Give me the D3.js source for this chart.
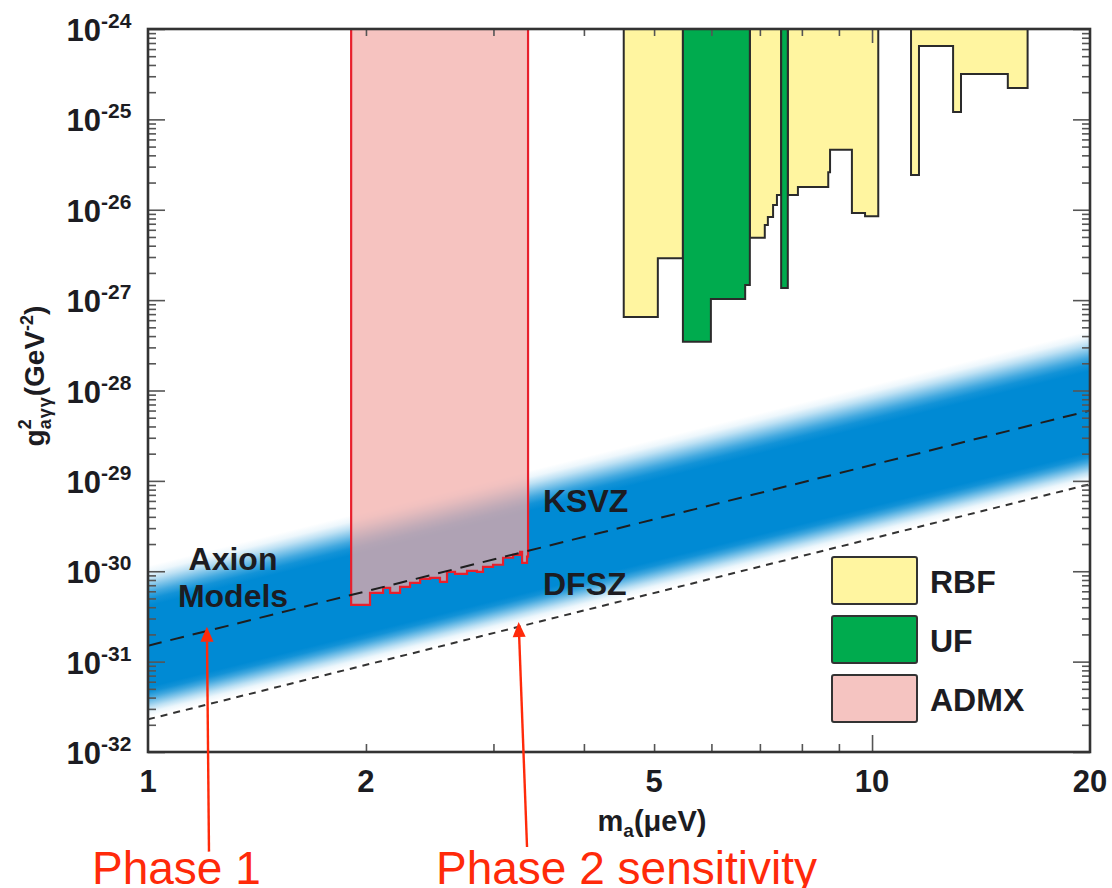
<!DOCTYPE html>
<html><head><meta charset="utf-8">
<script src="https://cdn.jsdelivr.net/npm/d3@7"></script>
<style>
body{margin:0;background:#fff}
svg{display:block}
text{font-family:"Liberation Sans",Arial,Helvetica,sans-serif}
</style>
</head><body>
<svg id="chart" width="1112" height="888"></svg>
<script>
// ---------------- data ----------------
const xTickLabels = [1, 2, 5, 10, 20];
const xMinorTicks = [2, 3, 4, 5, 6, 7, 8, 9];
const xMajorTicks = [10];
const yTickExponents = [-24, -25, -26, -27, -28, -29, -30, -31, -32];

// excluded regions: each segment = [mass left, mass right, g^2 lower limit]
const rbfRegions = [
  [[4.54, 5.06, 6.5e-28], [5.06, 5.48, 2.9e-27]],
  [[6.78, 7.11, 4.9e-27], [7.11, 7.18, 6.8e-27], [7.18, 7.30, 8.3e-27], [7.30, 7.39, 1.13e-26], [7.39, 7.49, 1.46e-26]],
  [[7.65, 7.90, 1.46e-26], [7.90, 8.70, 1.79e-26], [8.70, 8.75, 2.6e-26], [8.75, 9.38, 4.6e-26], [9.38, 9.78, 9.2e-27], [9.78, 10.2, 8.5e-27]],
  [[11.32, 11.61, 2.43e-26], [11.61, 12.94, 6.5e-25], [12.94, 13.27, 1.21e-25], [13.27, 15.4, 3.18e-25], [15.4, 16.4, 2.22e-25]]
];
const ufRegions = [
  [[5.48, 5.99, 3.46e-28], [5.99, 6.68, 1.03e-27], [6.68, 6.78, 1.47e-27]],
  [[7.49, 7.65, 1.36e-27]]
];
const admxMass  = [1.908, 2.026, 2.112, 2.160, 2.229, 2.301, 2.376, 2.452, 2.531, 2.588, 2.655, 2.758, 2.847, 2.902, 2.996, 3.093, 3.193, 3.265, 3.286, 3.338];
const admxLimit = [4.25e-31, 5.77e-31, 6.56e-31, 5.77e-31, 6.72e-31, 7.44e-31, 8.24e-31, 8.45e-31, 7.63e-31, 9.84e-31, 9.35e-31, 1.01e-30, 9.84e-31, 1.12e-30, 1.18e-30, 1.41e-30, 1.52e-30, 1.64e-30, 1.24e-30, 1.45e-30];
const admxMassEnd = 3.349;

// model lines (straight in log-log)
const ksvz = [[1, 1.5e-31], [20, 6.0e-29]];
const dfsz = [[1, 2.3e-32], [20, 9.2e-30]];
// axion-model band (outer fade edges and solid core)
const bandTop = [[1, 1.15e-30], [20, 4.6e-28]];
const bandSolidTop = [[1, 4.1e-31], [20, 1.65e-28]];
const bandSolidBottom = [[1, 5.2e-32], [20, 2.1e-29]];
const bandBottom = [[1, 2.4e-32], [20, 9.6e-30]];

const legendNames = ["RBF", "UF", "ADMX"];
const legendColors = ["#fff5a0", "#00ab4e", "#f5c4c1"];

// annotation arrows: [tail, tip] in (mass, g^2)
const phase1Arrow = [[1.214, 7.9e-34], [1.206, 2.43e-31]];
const phase2Arrow = [[3.338, 8.9e-34], [3.25, 2.75e-31]];

// ---------------- layout ----------------
const L = 148, R = 1090, T = 29, B = 752;
const x = d3.scaleLog().domain([1, 20]).range([L, R]);
const y = d3.scaleLog().domain([1e-32, 1e-24]).range([B, T]);
const gTop = 1e-24;

const svg = d3.select("#chart");
const defs = svg.append("defs");
defs.append("clipPath").attr("id", "plotclip").append("rect")
  .attr("x", L).attr("y", T).attr("width", R - L).attr("height", B - T);

const plot = svg.append("g").attr("clip-path", "url(#plotclip)");

// ----- band with perpendicular gradient -----
function lineAt(arr, m) { // value on straight log-log line
  const t = (Math.log(m) - Math.log(arr[0][0])) / (Math.log(arr[1][0]) - Math.log(arr[0][0]));
  return Math.exp(Math.log(arr[0][1]) + t * (Math.log(arr[1][1]) - Math.log(arr[0][1])));
}
const m0 = x.invert(620);
const px0 = x(m0);
const yT = y(lineAt(bandTop, m0)), yB = y(lineAt(bandBottom, m0));
const ySt = y(lineAt(bandSolidTop, m0)), ySb = y(lineAt(bandSolidBottom, m0));
const s = (y(ksvz[1][1]) - y(ksvz[0][1])) / (x(ksvz[1][0]) - x(ksvz[0][0]));
const norm = Math.sqrt(1 + s * s);
const nx = -s / norm, ny = 1 / norm;
const Lg = (yB - yT) / norm;
const grad = defs.append("linearGradient").attr("id", "bandgrad")
  .attr("gradientUnits", "userSpaceOnUse")
  .attr("x1", px0).attr("y1", yT)
  .attr("x2", px0 + nx * Lg).attr("y2", yT + ny * Lg);
const o1 = (ySt - yT) / (yB - yT), o2 = (ySb - yT) / (yB - yT);
const blue = "rgb(0,138,212)";
const stops = [];
for (let i = 0; i <= 6; i++) { const f = i / 6; stops.push([f * o1, f * f * (3 - 2 * f)]); }
for (let i = 0; i <= 6; i++) { const f = i / 6; stops.push([o2 + f * (1 - o2), 1 - f * f * (3 - 2 * f)]); }
stops.forEach(st => grad.append("stop").attr("offset", st[0]).attr("stop-color", blue).attr("stop-opacity", st[1]));

const bandPts = [bandTop[0], bandTop[1], bandBottom[1], bandBottom[0]];
plot.append("path")
  .attr("d", d3.line().x(d => x(d[0])).y(d => y(d[1]))(bandPts) + "Z")
  .attr("fill", "url(#bandgrad)");

// ----- excluded regions -----
function regionPts(segs) {
  const pts = [[segs[0][0], gTop * 3]];
  segs.forEach(sg => { pts.push([sg[0], sg[2]]); pts.push([sg[1], sg[2]]); });
  pts.push([segs[segs.length - 1][1], gTop * 3]);
  return pts;
}
const line = d3.line().x(d => x(d[0])).y(d => y(d[1]));
plot.selectAll("path.rbf").data(rbfRegions).join("path").attr("class", "rbf")
  .attr("d", d => line(regionPts(d)) + "Z")
  .attr("fill", legendColors[0]).attr("stroke", "#2b2b2b").attr("stroke-width", 2).attr("stroke-linejoin", "miter");
plot.selectAll("path.uf").data(ufRegions).join("path").attr("class", "uf")
  .attr("d", d => line(regionPts(d)) + "Z")
  .attr("fill", legendColors[1]).attr("stroke", "#2b2b2b").attr("stroke-width", 2);

// ADMX
const admxSegs = admxMass.map((m, i) => [m, i < admxMass.length - 1 ? admxMass[i + 1] : admxMassEnd, admxLimit[i]]);
plot.append("path")
  .attr("d", line(regionPts(admxSegs)) + "Z")
  .attr("fill", "rgb(243,172,168)").attr("fill-opacity", 0.72)
  .attr("stroke", "#e8202c").attr("stroke-width", 2.2);

// model lines
plot.append("path").attr("d", line(ksvz))
  .attr("stroke", "#1e1e1e").attr("stroke-width", 2).attr("fill", "none").attr("stroke-dasharray", "14,9");
plot.append("path").attr("d", line(dfsz))
  .attr("stroke", "#333").attr("stroke-width", 2).attr("fill", "none").attr("stroke-dasharray", "7,6");

// ----- axes / ticks -----
const tickCol = "#555";
const yMinor = [];
yTickExponents.slice(1).forEach(e => { for (let k = 2; k <= 9; k++) yMinor.push(k * Math.pow(10, e)); });
const yMajor = yTickExponents.map(e => Math.pow(10, e));

function addAxis(axis, transform) {
  const g = svg.append("g").attr("transform", transform).call(axis);
  g.select(".domain").remove();
  g.selectAll(".tick line").attr("stroke", tickCol).attr("stroke-width", 1.6);
  g.selectAll(".tick text").remove();
}
addAxis(d3.axisLeft(y).tickValues(yMinor).tickSize(-8).tickFormat(""), `translate(${L},0)`);
addAxis(d3.axisLeft(y).tickValues(yMajor).tickSize(-17).tickFormat(""), `translate(${L},0)`);
addAxis(d3.axisRight(y).tickValues(yMinor).tickSize(-8).tickFormat(""), `translate(${R},0)`);
addAxis(d3.axisRight(y).tickValues(yMajor).tickSize(-17).tickFormat(""), `translate(${R},0)`);
addAxis(d3.axisBottom(x).tickValues(xMinorTicks).tickSize(-8).tickFormat(""), `translate(0,${B})`);
addAxis(d3.axisBottom(x).tickValues(xMajorTicks).tickSize(-17).tickFormat(""), `translate(0,${B})`);
addAxis(d3.axisTop(x).tickValues(xMinorTicks).tickSize(-7).tickFormat(""), `translate(0,${T})`);
addAxis(d3.axisTop(x).tickValues(xMajorTicks).tickSize(-14).tickFormat(""), `translate(0,${T})`);

svg.append("rect").attr("x", L).attr("y", T).attr("width", R - L).attr("height", B - T)
  .attr("fill", "none").attr("stroke", "#333").attr("stroke-width", 2.6);

// tick labels
const txtCol = "#1c1c22";
svg.selectAll("text.xl").data(xTickLabels).join("text").attr("class", "xl")
  .attr("x", d => x(d)).attr("y", 792).attr("text-anchor", "middle")
  .attr("font-size", 31).attr("font-weight", "bold").attr("fill", txtCol).text(d => d);
const yl = svg.selectAll("g.yl").data(yTickExponents).join("g").attr("class", "yl")
  .attr("transform", d => `translate(0,${y(Math.pow(10, d))})`);
yl.append("text").attr("x", 101).attr("y", 12).attr("text-anchor", "end")
  .attr("font-size", 31).attr("font-weight", "bold").attr("fill", txtCol).text("10");
yl.append("text").attr("x", 101).attr("y", -1).attr("text-anchor", "start")
  .attr("font-size", 21).attr("font-weight", "bold").attr("fill", txtCol).text(d => d);

// axis titles
const xt = svg.append("text").attr("x", 652).attr("y", 831).attr("text-anchor", "middle")
  .attr("font-size", 29).attr("font-weight", "bold").attr("fill", txtCol);
xt.append("tspan").text("m");
xt.append("tspan").attr("font-size", 19).attr("dy", 6).text("a");
xt.append("tspan").attr("dy", -6).text("(μeV)");

const yt = svg.append("text").attr("transform", "translate(44,376) rotate(-90)").attr("text-anchor", "middle")
  .attr("font-size", 28).attr("font-weight", "bold").attr("fill", txtCol);
yt.append("tspan").text("g");
yt.append("tspan").attr("font-size", 18).attr("dy", -13).text("2");
yt.append("tspan").attr("font-size", 18).attr("dx", -10).attr("dy", 20).attr("letter-spacing", 1).text("aγγ");
yt.append("tspan").attr("dy", -7).text("(GeV");
yt.append("tspan").attr("font-size", 18).attr("dy", -11).text("-2");
yt.append("tspan").attr("dy", 11).text(")");

// in-plot labels
const lab = (t, xx, yy, anchor) => svg.append("text").attr("x", xx).attr("y", yy)
  .attr("text-anchor", anchor || "start").attr("font-size", 32).attr("font-weight", "bold")
  .attr("fill", txtCol).text(t);
lab("Axion", 233, 570, "middle");
lab("Models", 233, 607, "middle");
lab("KSVZ", 543, 512);
lab("DFSZ", 543, 595);

// legend
const lg = svg.selectAll("g.leg").data(legendNames).join("g").attr("class", "leg")
  .attr("transform", (d, i) => `translate(832,${557 + i * 59})`);
lg.append("rect").attr("width", 85).attr("height", 47).attr("rx", 2)
  .attr("fill", (d, i) => legendColors[i]).attr("stroke", "#333").attr("stroke-width", 2);
lg.append("text").attr("x", 98).attr("y", 36).attr("font-size", 32).attr("font-weight", "bold")
  .attr("fill", txtCol).text(d => d);

// annotation arrows
const red = "#ff2a0a";
function arrow(a) {
  const [x1, y1] = [x(a[0][0]), y(a[0][1])];
  const [x2, y2] = [x(a[1][0]), y(a[1][1])];
  const ang = Math.atan2(y2 - y1, x2 - x1);
  const hl = 15, hw = 6.5;
  const bx = x2 - hl * Math.cos(ang), by = y2 - hl * Math.sin(ang);
  svg.append("line").attr("x1", x1).attr("y1", y1).attr("x2", bx).attr("y2", by)
    .attr("stroke", red).attr("stroke-width", 2.4);
  svg.append("path").attr("d", d3.line()([
    [x2, y2],
    [bx + hw * Math.sin(ang), by - hw * Math.cos(ang)],
    [bx - hw * Math.sin(ang), by + hw * Math.cos(ang)]
  ]) + "Z").attr("fill", red);
}
arrow(phase1Arrow);
arrow(phase2Arrow);
svg.append("text").attr("x", 92).attr("y", 884).attr("font-size", 46).attr("fill", red).text("Phase 1");
svg.append("text").attr("x", 436).attr("y", 884).attr("font-size", 46).attr("fill", red).text("Phase 2 sensitivity");
</script>
</body></html>
